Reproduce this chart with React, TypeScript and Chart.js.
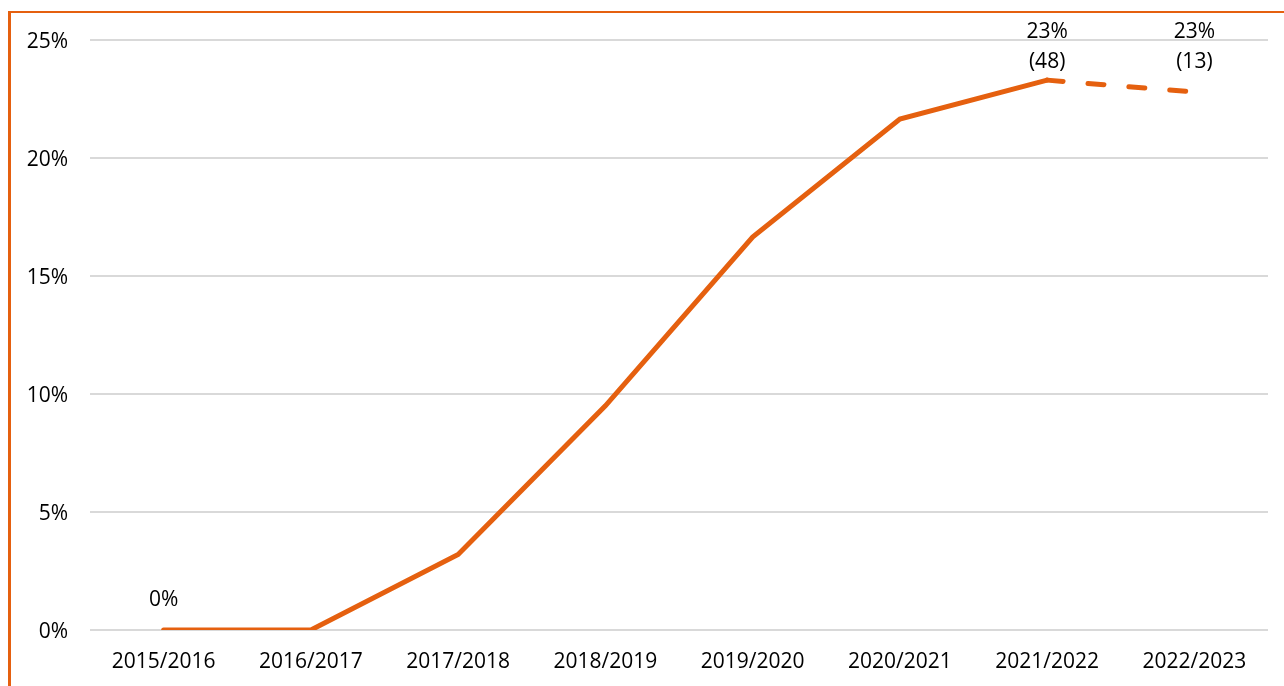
import React, { useEffect, useRef } from "react";
import { Chart, registerables } from "chart.js";

Chart.register(...registerables);

const categories = ["2015/2016", "2016/2017", "2017/2018", "2018/2019", "2019/2020", "2020/2021", "2021/2022", "2022/2023"];
const shareValues = [0, 0, 3.2, 9.5, 16.65, 21.65, 23.3, 22.8];
const pointLabels: (string[] | null)[] = [["0%"], null, null, null, null, null, ["23%", "(48)"], ["23%", "(13)"]];
const yTicks = [0, 5, 10, 15, 20, 25];

const ORANGE = "#E5600F";
const FONT = "'Open Sans', sans-serif";

const labelPlugin = {
  id: "pointLabels",
  afterDatasetsDraw(chart: any) {
    const ctx = chart.ctx;
    const meta = chart.getDatasetMeta(0);
    const offsets = [30, 0, 0, 0, 0, 0, 18, 30];
    ctx.save();
    ctx.font = `21px ${FONT}`;
    ctx.fillStyle = "#000";
    ctx.textAlign = "center";
    ctx.textBaseline = "middle";
    pointLabels.forEach((lines, i) => {
      if (!lines) return;
      const pt = meta.data[i];
      const lastY = pt.y - offsets[i];
      lines.forEach((t, j) => {
        const y = lastY - (lines.length - 1 - j) * 30;
        ctx.fillText(t, pt.x, y);
      });
    });
    ctx.restore();
  },
};

export default function App() {
  const ref = useRef<HTMLCanvasElement>(null);
  useEffect(() => {
    document.body.style.margin = "0";
    const chart = new Chart(ref.current!, {
      type: "line",
      data: {
        labels: categories,
        datasets: [
          {
            data: shareValues,
            borderColor: ORANGE,
            borderWidth: 5,
            pointRadius: 0,
            tension: 0,
            borderCapStyle: "round",
            segment: {
              borderDash: (c: any) => (c.p0DataIndex >= 6 ? [16, 25] : undefined),
            },
          } as any,
        ],
      },
      options: {
        animation: false,
        responsive: false,
        layout: { padding: { left: 10, right: 16, top: 40, bottom: 0 } },
        plugins: { legend: { display: false }, tooltip: { enabled: false } },
        scales: {
          x: {
            offset: true,
            grid: { display: false, drawTicks: false },
            border: { display: false },
            ticks: { color: "#000", font: { family: FONT, size: 21 }, padding: 19, maxRotation: 0 },
            afterFit: (s: any) => {
              s.height = 56;
            },
          },
          y: {
            min: 0,
            max: 25,
            afterBuildTicks: (s: any) => {
              s.ticks = yTicks.map((v) => ({ value: v }));
            },
            grid: { color: "#D9D9D9", lineWidth: 2, drawTicks: false },
            border: { display: false },
            ticks: {
              color: "#000",
              font: { family: FONT, size: 21 },
              padding: 22,
              labelOffset: 2,
              callback: (v: any) => `${v}%`,
            },
            afterFit: (s: any) => {
              s.width = 80;
            },
          },
        },
      },
      plugins: [labelPlugin],
    });
    return () => chart.destroy();
  }, []);
  return (
    <div style={{ position: "fixed", left: 0, top: 0, width: 1284, height: 686, background: "#fff", overflow: "hidden" }}>
      <div
        style={{
          position: "absolute",
          left: 8,
          top: 11,
          width: 1300,
          height: 700,
          borderLeft: `3px solid ${ORANGE}`,
          borderTop: `2px solid ${ORANGE}`,
        }}
      />
      <canvas ref={ref} width={1284} height={686} style={{ position: "absolute", left: 0, top: 0 }} />
    </div>
  );
}
